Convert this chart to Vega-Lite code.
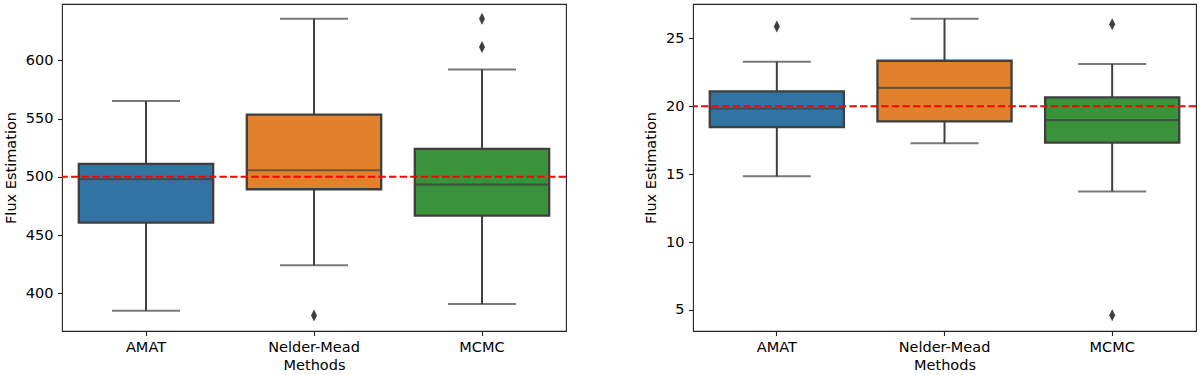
{
  "$schema": "https://vega.github.io/schema/vega-lite/v6.json",
  "background": "white",
  "padding": {"left": 2, "top": 3, "right": 3, "bottom": 0},
  "bounds": "flush",
  "spacing": 127,
  "config": {
    "font": "DejaVu Sans",
    "view": {"stroke": "#222222", "strokeWidth": 1.1},
    "axis": {
      "grid": false,
      "domain": false,
      "labelFont": "DejaVu Sans",
      "titleFont": "DejaVu Sans",
      "labelFontSize": 14.5,
      "titleFontSize": 14.5,
      "titleFontWeight": "normal",
      "labelColor": "#000000",
      "titleColor": "#000000",
      "tickColor": "#222222",
      "tickSize": 4.5,
      "tickWidth": 1.1,
      "labelPadding": 4.5
    },
    "axisX": {"labelAngle": 0, "titlePadding": 5},
    "axisY": {"titlePadding": 7}
  },
  "datasets": {
    "stats": [
      {"panel": "left", "method": "AMAT", "lower": 385, "q1": 460.6, "median": 498, "q3": 511, "upper": 565},
      {"panel": "left", "method": "Nelder-Mead", "lower": 424, "q1": 489.3, "median": 505.6, "q3": 553.3, "upper": 635.7},
      {"panel": "left", "method": "MCMC", "lower": 390.8, "q1": 466.6, "median": 493.2, "q3": 523.9, "upper": 592},
      {"panel": "right", "method": "AMAT", "lower": 14.84, "q1": 18.47, "median": 19.82, "q3": 21.1, "upper": 23.28},
      {"panel": "right", "method": "Nelder-Mead", "lower": 17.27, "q1": 18.89, "median": 21.36, "q3": 23.35, "upper": 26.44},
      {"panel": "right", "method": "MCMC", "lower": 13.73, "q1": 17.32, "median": 18.98, "q3": 20.65, "upper": 23.11}
    ],
    "outliers": [
      {"panel": "left", "method": "Nelder-Mead", "value": 381},
      {"panel": "left", "method": "MCMC", "value": 635.7},
      {"panel": "left", "method": "MCMC", "value": 611.4},
      {"panel": "right", "method": "AMAT", "value": 25.88},
      {"panel": "right", "method": "MCMC", "value": 26.03},
      {"panel": "right", "method": "MCMC", "value": 4.61}
    ],
    "truth": [
      {"panel": "left", "value": 500},
      {"panel": "right", "value": 20}
    ]
  },
  "hconcat": [
    {
      "width": 504,
      "height": 327,
      "data": {"name": "stats"},
      "transform": [{"filter": "datum.panel === 'left'"}],
      "layer": [
        {
          "mark": {"type": "rule", "color": "#3f3f3f", "strokeWidth": 2},
          "encoding": {
            "x": {"field": "method", "type": "nominal", "sort": ["AMAT", "Nelder-Mead", "MCMC"], "scale": {"type": "band", "paddingInner": 0.2, "paddingOuter": 0.1}, "title": "Methods"},
            "y": {"field": "lower", "type": "quantitative", "scale": {"domain": [367.6, 648.3], "nice": false, "zero": false}, "axis": {"values": [400, 450, 500, 550, 600]}, "title": "Flux Estimation"},
            "y2": {"field": "upper"}
          }
        },
        {
          "mark": {"type": "tick", "color": "#3f3f3f", "size": 68, "thickness": 2},
          "encoding": {
            "x": {"field": "method", "type": "nominal", "sort": ["AMAT", "Nelder-Mead", "MCMC"]},
            "y": {"field": "upper", "type": "quantitative"}
          }
        },
        {
          "mark": {"type": "tick", "color": "#3f3f3f", "size": 68, "thickness": 2},
          "encoding": {
            "x": {"field": "method", "type": "nominal", "sort": ["AMAT", "Nelder-Mead", "MCMC"]},
            "y": {"field": "lower", "type": "quantitative"}
          }
        },
        {
          "mark": {"type": "bar", "stroke": "#3f3f3f", "strokeWidth": 2.3, "opacity": 1},
          "encoding": {
            "x": {"field": "method", "type": "nominal", "sort": ["AMAT", "Nelder-Mead", "MCMC"]},
            "y": {"field": "q1", "type": "quantitative"},
            "y2": {"field": "q3"},
            "color": {"field": "method", "type": "nominal", "scale": {"domain": ["AMAT", "Nelder-Mead", "MCMC"], "range": ["#3274a1", "#e1812c", "#3a923a"]}, "legend": null}
          }
        },
        {
          "mark": {"type": "tick", "color": "#3f3f3f", "size": 134, "thickness": 2.2},
          "encoding": {
            "x": {"field": "method", "type": "nominal", "sort": ["AMAT", "Nelder-Mead", "MCMC"]},
            "y": {"field": "median", "type": "quantitative"}
          }
        },
        {
          "data": {"name": "outliers"},
          "transform": [{"filter": "datum.panel === 'left'"}],
          "mark": {"type": "point", "shape": "M0,-1L0.5,0L0,1L-0.5,0Z", "filled": true, "color": "#3f3f3f", "size": 144, "opacity": 1},
          "encoding": {
            "x": {"field": "method", "type": "nominal", "sort": ["AMAT", "Nelder-Mead", "MCMC"]},
            "y": {"field": "value", "type": "quantitative"}
          }
        },
        {
          "data": {"name": "truth"},
          "transform": [{"filter": "datum.panel === 'left'"}],
          "mark": {"type": "rule", "color": "#ff0000", "strokeWidth": 2, "strokeDash": [7.4, 3.2]},
          "encoding": {
            "y": {"field": "value", "type": "quantitative"}
          }
        }
      ]
    },
    {
      "width": 503,
      "height": 327,
      "data": {"name": "stats"},
      "transform": [{"filter": "datum.panel === 'right'"}],
      "layer": [
        {
          "mark": {"type": "rule", "color": "#3f3f3f", "strokeWidth": 2},
          "encoding": {
            "x": {"field": "method", "type": "nominal", "sort": ["AMAT", "Nelder-Mead", "MCMC"], "scale": {"type": "band", "paddingInner": 0.2, "paddingOuter": 0.1}, "title": "Methods"},
            "y": {"field": "lower", "type": "quantitative", "scale": {"domain": [3.45, 27.53], "nice": false, "zero": false}, "axis": {"values": [5, 10, 15, 20, 25]}, "title": "Flux Estimation"},
            "y2": {"field": "upper"}
          }
        },
        {
          "mark": {"type": "tick", "color": "#3f3f3f", "size": 68, "thickness": 2},
          "encoding": {
            "x": {"field": "method", "type": "nominal", "sort": ["AMAT", "Nelder-Mead", "MCMC"]},
            "y": {"field": "upper", "type": "quantitative"}
          }
        },
        {
          "mark": {"type": "tick", "color": "#3f3f3f", "size": 68, "thickness": 2},
          "encoding": {
            "x": {"field": "method", "type": "nominal", "sort": ["AMAT", "Nelder-Mead", "MCMC"]},
            "y": {"field": "lower", "type": "quantitative"}
          }
        },
        {
          "mark": {"type": "bar", "stroke": "#3f3f3f", "strokeWidth": 2.3, "opacity": 1},
          "encoding": {
            "x": {"field": "method", "type": "nominal", "sort": ["AMAT", "Nelder-Mead", "MCMC"]},
            "y": {"field": "q1", "type": "quantitative"},
            "y2": {"field": "q3"},
            "color": {"field": "method", "type": "nominal", "scale": {"domain": ["AMAT", "Nelder-Mead", "MCMC"], "range": ["#3274a1", "#e1812c", "#3a923a"]}, "legend": null}
          }
        },
        {
          "mark": {"type": "tick", "color": "#3f3f3f", "size": 134, "thickness": 2.2},
          "encoding": {
            "x": {"field": "method", "type": "nominal", "sort": ["AMAT", "Nelder-Mead", "MCMC"]},
            "y": {"field": "median", "type": "quantitative"}
          }
        },
        {
          "data": {"name": "outliers"},
          "transform": [{"filter": "datum.panel === 'right'"}],
          "mark": {"type": "point", "shape": "M0,-1L0.5,0L0,1L-0.5,0Z", "filled": true, "color": "#3f3f3f", "size": 144, "opacity": 1},
          "encoding": {
            "x": {"field": "method", "type": "nominal", "sort": ["AMAT", "Nelder-Mead", "MCMC"]},
            "y": {"field": "value", "type": "quantitative"}
          }
        },
        {
          "data": {"name": "truth"},
          "transform": [{"filter": "datum.panel === 'right'"}],
          "mark": {"type": "rule", "color": "#ff0000", "strokeWidth": 2, "strokeDash": [7.4, 3.2]},
          "encoding": {
            "y": {"field": "value", "type": "quantitative"}
          }
        }
      ]
    }
  ]
}
